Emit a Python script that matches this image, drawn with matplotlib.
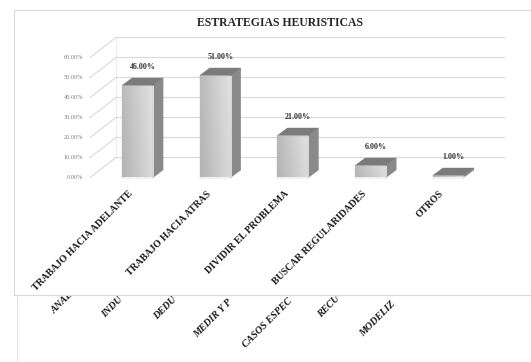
import numpy as np
import matplotlib
matplotlib.use("Agg")
import matplotlib.pyplot as plt
from matplotlib.patches import Polygon, Rectangle
from matplotlib.transforms import Bbox, TransformedBbox
from matplotlib.lines import Line2D

# ---------------- data ----------------
title = "ESTRATEGIAS HEURISTICAS"
categories = ["TRABAJO HACIA ADELANTE", "TRABAJO HACIA ATRAS", "DIVIDIR EL PROBLEMA",
              "BUSCAR REGULARIDADES", "OTROS"]
values = [46.0, 51.0, 21.0, 6.0, 1.0]
ytick_values = [0, 10, 20, 30, 40, 50, 60]
ytick_labels = ["0.00%", "10.00%", "20.00%", "30.00%", "40.00%", "50.00%", "60.00%"]
# partially visible labels of the chart lying behind
back_labels = ["ANAL", "INDU", "DEDU", "MEDIR Y P", "CASOS ESPEC", "RECU", "MODELIZ"]

# ---------------- layout ----------------
W, H = 531, 362
fig = plt.figure(figsize=(W / 100, H / 100), dpi=100)
fig.patch.set_facecolor("white")

SERIF = "Liberation Serif"
ux = 77.7   # px per category
uy = 2.0    # px per percent
ax_left, ax_right, ax_top, ax_bottom = 90, 505, 30, 177.5
xmin = -0.2 - 32 / ux
xmax = xmin + (ax_right - ax_left) / ux
ymax = (ax_bottom - ax_top) / uy

ax = fig.add_axes([ax_left / W, (H - ax_bottom) / H, (ax_right - ax_left) / W,
                   (ax_bottom - ax_top) / H])
ax.axis("off")

# depth offsets
dxw, dyw = 26 / ux, 20 / uy      # back wall
bdx, bdy = 10 / ux, 7.5 / uy     # bar depth
hw = 0.2                          # bar half width

# back wall gridlines (with perspective diagonal)
ax.plot([xmin + dxw, xmin + dxw], [dyw, ytick_values[-1] + dyw], color="#ececec",
        lw=0.7, clip_on=False, zorder=1)
for v in ytick_values:
    ax.plot([xmin, xmin + dxw, xmax], [v, v + dyw, v + dyw], color="#d9d9d9",
            lw=0.8, clip_on=False, zorder=1, solid_joinstyle="miter")

# y tick labels
for v, lab in zip(ytick_values, ytick_labels):
    ax.text(xmin - 7 / ux, v, lab, ha="right", va="center", fontsize=4.6,
            color="#808080", family=SERIF, clip_on=False)

# gradient for bar front faces
gx = np.linspace(0.70, 0.86, 64)
gy = np.linspace(0.03, 0.0, 32)
grad = np.clip(gx[None, :] + gy[:, None], 0, 1)
grad_rgb = np.dstack([grad, grad, grad])

for i, v in enumerate(values):
    x0, x1 = i - hw, i + hw
    # side face
    side = Polygon([(x1, 0), (x1 + bdx, bdy), (x1 + bdx, v + bdy), (x1, v)],
                   closed=True, facecolor="#8a8a8a", edgecolor="#8a8a8a", lw=0.3,
                   zorder=3, clip_on=False)
    ax.add_patch(side)
    # top face
    top = Polygon([(x0, v), (x1, v), (x1 + bdx, v + bdy), (x0 + bdx, v + bdy)],
                  closed=True, facecolor="#7b7b7b", edgecolor="#7b7b7b", lw=0.3,
                  zorder=3, clip_on=False)
    ax.add_patch(top)
    # front face with gradient
    rect = Rectangle((x0, 0), 2 * hw, v, facecolor="none", edgecolor="#c0c0c0",
                     lw=0.3, zorder=4, clip_on=False)
    ax.add_patch(rect)
    im = ax.imshow(grad_rgb, extent=[x0, x1, 0, v], aspect="auto", origin="upper",
                   interpolation="bilinear", zorder=3.5)
    im.set_clip_path(rect)
    # value label
    ax.text(i + bdx / 2, v + bdy + 5.5, f"{v:.2f}%", ha="center", va="center",
            fontsize=5.8, fontweight="bold", family=SERIF, color="#333333",
            clip_on=False)
    # category label
    ax.text(i - 0.077, -7.5, categories[i], rotation=45, rotation_mode="anchor",
            ha="right", va="center", fontsize=7, fontweight="bold", family=SERIF,
            color="#1a1a1a", clip_on=False)

ax.set_xlim(xmin, xmax)
ax.set_ylim(0, ymax)

# title
fig.text(280 / W, 1 - 23 / H, title, ha="center", va="center", fontsize=8.5,
         fontweight="bold", family=SERIF, color="#262626")

# frame of the front chart
fc = "#d9d9d9"
fig.add_artist(Line2D([14 / W, 1], [1 - 10 / H, 1 - 10 / H], color=fc, lw=0.8))
fig.add_artist(Line2D([14 / W, 14 / W], [1 - 10 / H, 1 - 295 / H], color=fc, lw=0.8))
fig.add_artist(Line2D([14 / W, 1], [1 - 295 / H, 1 - 295 / H], color=fc, lw=0.8))
# left border of the chart behind
fig.add_artist(Line2D([17 / W, 17 / W], [1 - 296 / H, 0], color="#e3e3e3", lw=0.8))

# labels of the chart behind, clipped by the front chart
back_pos = [(55, 314), (105, 318), (157, 320), (197, 338), (246, 348), (321, 318),
            (363, 337)]
clipbox = TransformedBbox(Bbox([[0, 0], [1, (H - 295.5) / H]]), fig.transFigure)
for lab, (px, py) in zip(back_labels, back_pos):
    t = fig.text(px / W, 1 - py / H, lab, rotation=45, rotation_mode="anchor",
                 ha="left", va="baseline", fontsize=7.2, fontweight="bold",
                 style="italic", family=SERIF, color="#1a1a1a")
    t.set_clip_box(clipbox)
    t.set_clip_on(True)

fig.savefig("out.png", dpi=100, facecolor="white")
